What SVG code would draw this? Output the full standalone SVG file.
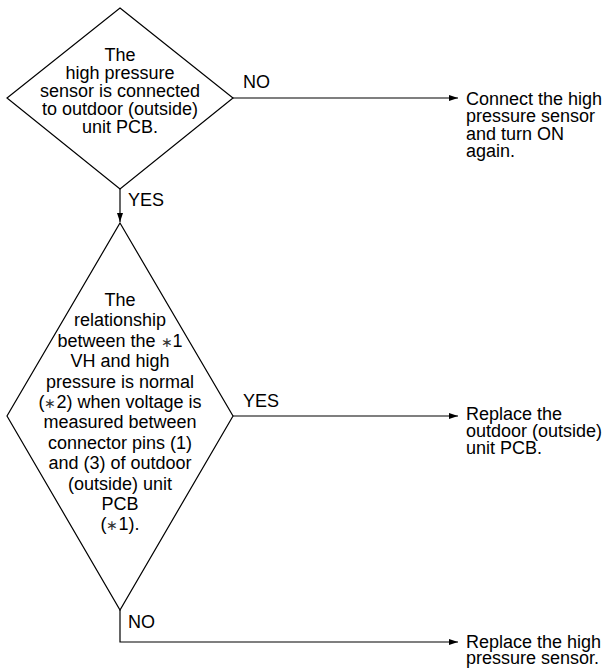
<svg xmlns="http://www.w3.org/2000/svg" width="609" height="669" viewBox="0 0 609 669">
<style>
.t{font-family:"Liberation Sans",Arial,sans-serif;font-size:18px;fill:#000}
.c{text-anchor:middle}
.a{font-size:14px;fill:#333}
.s{fill:#fff;stroke:#000;stroke-width:1.2}
.ln{fill:none;stroke:#000;stroke-width:1.2}
</style>
<defs>
<marker id="ah" markerWidth="10" markerHeight="6" refX="9" refY="3" orient="auto" markerUnits="userSpaceOnUse">
<path d="M0,0 L9,3 L0,6 Z" fill="#000"/>
</marker>
</defs>
<rect width="609" height="669" fill="#fff"/>
<g id="connectors">
<path class="ln" d="M120,189 V222" marker-end="url(#ah)"/>
<path class="ln" d="M233,98 H458" marker-end="url(#ah)"/>
<path class="ln" d="M233,416 H458" marker-end="url(#ah)"/>
<path class="ln" d="M120,610 V642 H458" marker-end="url(#ah)"/>
<text class="t" x="243" y="88">NO</text>
<text class="t" x="128" y="206">YES</text>
<text class="t" x="243" y="407">YES</text>
<text class="t" x="128" y="628">NO</text>
</g>
<g id="d1">
<polygon class="s" points="120,8 233,98 120,189 7,98"/>
<text class="t c"><tspan x="120" y="61">The</tspan><tspan x="120" y="79">high pressure</tspan><tspan x="120" y="97">sensor is connected</tspan><tspan x="120" y="115">to outdoor (outside)</tspan><tspan x="120" y="133">unit PCB.</tspan></text>
</g>
<g id="d2">
<polygon class="s" points="120,223 233,416 120,610 7,416"/>
<text class="t c"><tspan x="120" y="306">The</tspan><tspan x="120" y="326.4">relationship</tspan><tspan x="120" y="346.8">between the <tspan class="a">∗</tspan>1</tspan><tspan x="120" y="367.2">VH and high</tspan><tspan x="120" y="387.6">pressure is normal</tspan><tspan x="120" y="408">(<tspan class="a">∗</tspan>2) when voltage is</tspan><tspan x="120" y="428.4">measured between</tspan><tspan x="120" y="448.8">connector pins (1)</tspan><tspan x="120" y="469.2">and (3) of outdoor</tspan><tspan x="120" y="489.6">(outside) unit</tspan><tspan x="120" y="510">PCB</tspan><tspan x="120" y="530.4">(<tspan class="a">∗</tspan>1).</tspan></text>
</g>
<g id="r1">
<text class="t"><tspan x="466" y="105">Connect the high</tspan><tspan x="466" y="122.3">pressure sensor</tspan><tspan x="466" y="139.6">and turn ON</tspan><tspan x="466" y="157">again.</tspan></text>
</g>
<g id="r2">
<text class="t"><tspan x="466" y="420">Replace the</tspan><tspan x="466" y="437">outdoor (outside)</tspan><tspan x="466" y="454">unit PCB.</tspan></text>
</g>
<g id="r3">
<text class="t"><tspan x="466" y="648">Replace the high</tspan><tspan x="466" y="664">pressure sensor.</tspan></text>
</g>
</svg>
